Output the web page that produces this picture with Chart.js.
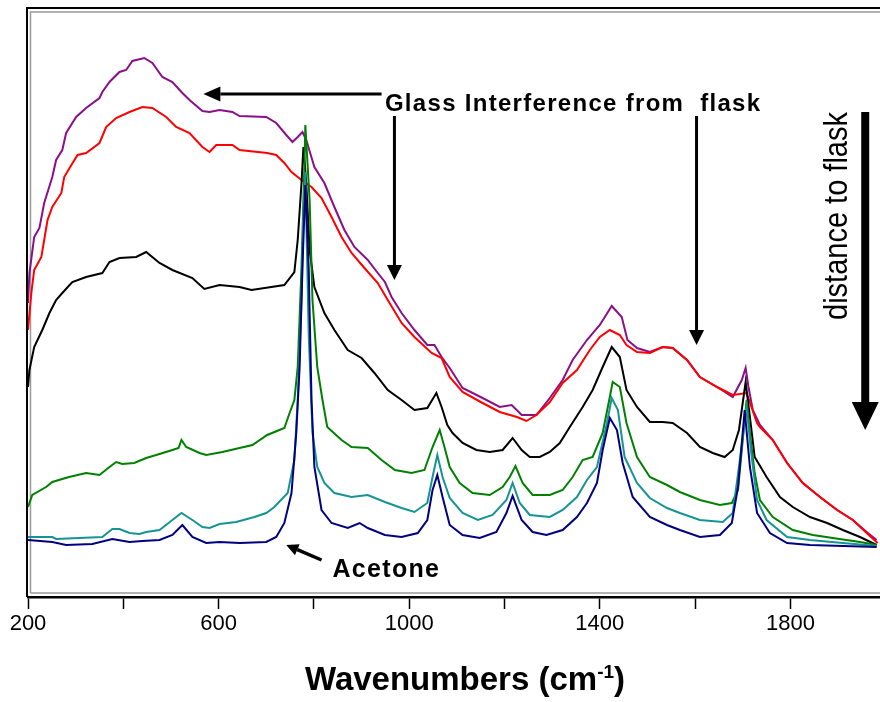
<!DOCTYPE html>
<html>
<head>
<meta charset="utf-8">
<script src="https://cdn.jsdelivr.net/npm/chart.js@4.4.1/dist/chart.umd.min.js"></script>
<style>
  html, body { margin: 0; padding: 0; background: #fff; }
</style>
</head>
<body>
<canvas id="raman" width="880" height="702"></canvas>
<script>
// Raman spectra of acetone through a glass flask, x = wavenumber (cm-1), y = intensity (a.u.)
const tickValues = [200, 400, 600, 800, 1000, 1200, 1400, 1600, 1800];
const labelledTicks = [200, 600, 1000, 1400, 1800];

const purpleSpectrum = [
  [200,294],[203,324],[213,360],[224,369],[234,394],[251,420],[259,437],[272,447],[280,464],[301,480],
  [322,489],[350,499],[356,505],[371,515],[392,525],[406,527],[419,536],[444,539],[461,534],[482,520],
  [503,515],[524,504],[539,497],[566,486],[581,485],[602,487],[629,485],[644,481],[700,480],[721,474],
  [742,462],[755,455],[766,460],[776,465],[784,457],[801,430],[822,414],[843,390],[864,367],[885,350],
  [913,337],[934,324],[949,315],[963,300],[984,284],[1011,267],[1038,252],[1053,252],[1068,240],[1085,229],
  [1112,209],[1154,199],[1190,190],[1215,192],[1236,182],[1267,182],[1295,199],[1322,217],[1343,237],[1373,257],
  [1400,272],[1425,291],[1446,280],[1458,257],[1478,249],[1505,245],[1532,250],[1553,249],[1583,237],[1610,220],
  [1646,210],[1679,200],[1698,217],[1706,229],[1712,210],[1721,187],[1736,172],[1763,157],[1793,134],[1826,114],
  [1862,100],[1898,87],[1931,77],[1960,65],[1981,57]
];

const redSpectrum = [
  [200,267],[207,304],[213,327],[228,340],[241,377],[251,390],[270,404],[276,420],[291,432],[304,442],
  [322,444],[350,454],[364,470],[385,479],[413,485],[440,490],[461,489],[490,480],[511,470],[539,464],
  [566,450],[581,445],[595,452],[629,452],[644,447],[702,444],[721,442],[738,434],[753,425],[774,417],
  [795,410],[816,399],[837,380],[858,360],[879,344],[906,329],[934,314],[955,297],[984,274],[1011,260],
  [1047,244],[1068,239],[1085,220],[1112,205],[1154,194],[1190,185],[1226,180],[1246,176],[1267,182],[1295,195],
  [1322,214],[1352,227],[1379,247],[1400,260],[1421,267],[1442,262],[1456,252],[1478,245],[1505,244],[1532,250],
  [1553,249],[1583,237],[1610,220],[1646,210],[1679,202],[1708,204],[1730,174],[1736,170],[1763,157],[1793,134],
  [1826,114],[1862,100],[1898,87],[1931,77],[1960,64],[1983,54]
];

const blackSpectrum = [
  [200,210],[203,227],[213,250],[230,267],[245,284],[259,297],[272,304],[293,315],[322,320],[356,324],
  [371,335],[392,339],[427,340],[448,345],[476,334],[503,327],[545,319],[570,308],[602,312],[644,310],
  [669,307],[738,312],[759,325],[766,357],[774,414],[778,450],[784,414],[791,347],[801,310],[822,284],
  [843,267],[871,247],[900,239],[927,224],[955,207],[984,197],[1011,187],[1038,189],[1057,204],[1068,190],
  [1080,172],[1091,164],[1112,154],[1141,147],[1169,145],[1196,147],[1217,159],[1236,147],[1253,140],[1274,140],
  [1295,145],[1316,154],[1337,170],[1364,190],[1385,207],[1406,230],[1425,250],[1442,240],[1456,207],[1478,190],
  [1505,175],[1532,175],[1553,174],[1583,164],[1610,150],[1637,144],[1662,140],[1679,147],[1692,167],[1706,215],
  [1715,180],[1725,140],[1750,120],[1778,100],[1805,90],[1841,80],[1877,74],[1910,67],[1946,60],[1981,52]
];

const greenSpectrum = [
  [200,90],[209,102],[238,110],[251,115],[286,120],[322,124],[350,122],[371,130],[385,135],[398,133],
  [423,134],[448,139],[476,143],[503,147],[516,149],[522,157],[532,150],[560,144],[574,142],[608,145],
  [644,149],[671,152],[702,162],[738,169],[749,184],[759,197],[766,230],[774,330],[780,430],[782,472],
  [791,397],[797,297],[807,230],[818,197],[828,170],[858,157],[879,150],[913,149],[942,137],[970,127],
  [1005,124],[1032,127],[1049,150],[1064,167],[1074,150],[1085,130],[1106,114],[1133,104],[1169,102],[1196,110],
  [1211,120],[1223,131],[1238,114],[1259,102],[1295,102],[1322,107],[1343,120],[1364,137],[1385,140],[1406,164],
  [1421,200],[1427,215],[1442,210],[1456,174],[1478,140],[1505,120],[1541,112],[1568,105],[1610,97],[1652,92],
  [1677,94],[1690,107],[1700,157],[1708,197],[1715,164],[1725,124],[1736,97],[1763,80],[1805,67],[1847,62],
  [1889,59],[1946,55],[1981,52]
];

const tealSpectrum = [
  [200,60],[251,60],[259,58],[356,60],[377,68],[392,68],[413,64],[434,63],[448,65],[476,67],
  [503,77],[522,84],[545,77],[566,70],[581,69],[602,73],[637,75],[675,80],[700,84],[717,90],
  [745,104],[759,137],[766,197],[774,297],[778,384],[782,425],[789,264],[797,164],[807,130],[822,114],
  [843,104],[879,100],[913,102],[949,95],[984,89],[1011,85],[1038,94],[1049,120],[1059,142],[1070,120],
  [1085,99],[1112,84],[1144,77],[1175,82],[1204,97],[1217,114],[1232,94],[1253,82],[1295,80],[1322,87],
  [1352,100],[1373,117],[1394,130],[1415,174],[1425,199],[1438,187],[1452,140],[1478,114],[1505,99],[1541,89],
  [1568,84],[1610,77],[1658,75],[1679,84],[1692,130],[1708,190],[1717,147],[1730,97],[1750,77],[1793,60],
  [1841,57],[1910,54],[1981,51]
];

const navySpectrum = [
  [200,57],[251,55],[280,52],[335,53],[377,58],[413,55],[440,56],[476,57],[503,62],[524,72],
  [545,60],[574,54],[602,55],[644,54],[700,55],[721,60],[738,74],[753,104],[763,164],[770,230],
  [776,330],[782,412],[789,330],[795,197],[801,130],[816,87],[837,74],[871,69],[896,74],[913,69],
  [949,62],[984,60],[1018,64],[1038,77],[1049,107],[1059,122],[1070,100],[1085,72],[1112,62],[1148,59],
  [1183,65],[1204,84],[1217,101],[1236,77],[1259,65],[1288,62],[1322,67],[1352,80],[1373,94],[1394,114],
  [1406,147],[1421,179],[1436,167],[1448,134],[1469,100],[1505,80],[1541,72],[1568,67],[1610,60],[1652,62],
  [1677,74],[1690,110],[1704,187],[1715,130],[1730,84],[1757,64],[1793,54],[1841,52],[1981,50]
];

// annotation anchors, in data units [wavenumber, intensity]
const glassArrowLeft = { from: [942, 503], to: [568, 503] };
const glassArrowA = { from: [969, 481], to: [969, 317] };
const glassArrowB = { from: [1603, 481], to: [1603, 252] };
const distanceArrow = { from: [1957, 485], to: [1957, 167] };
const acetoneArrow = { from: [816, 37], to: [742, 52] };
const glassLabelAt = [949, 486];
const distanceLabelAt = [1918, 381];
const acetoneLabelAt = [839, 20];

const FONT = '"Liberation Sans", Arial, Helvetica, sans-serif';

function toPoints(pairs) {
  return pairs.map(p => ({ x: p[0], y: p[1] }));
}

function px(chart, p) {
  return [chart.scales.x.getPixelForValue(p[0]), chart.scales.y.getPixelForValue(p[1])];
}

function drawArrow(ctx, a, b, shaft, headLen, headWidth) {
  const ang = Math.atan2(b[1] - a[1], b[0] - a[0]);
  const bx = b[0] - Math.cos(ang) * headLen;
  const by = b[1] - Math.sin(ang) * headLen;
  ctx.strokeStyle = '#000';
  ctx.fillStyle = '#000';
  ctx.lineWidth = shaft;
  ctx.lineCap = 'butt';
  ctx.beginPath();
  ctx.moveTo(a[0], a[1]);
  ctx.lineTo(bx, by);
  ctx.stroke();
  const nx = -Math.sin(ang) * headWidth / 2;
  const ny = Math.cos(ang) * headWidth / 2;
  ctx.beginPath();
  ctx.moveTo(b[0], b[1]);
  ctx.lineTo(bx + nx, by + ny);
  ctx.lineTo(bx - nx, by - ny);
  ctx.closePath();
  ctx.fill();
}

// double-line frame around the plot
const framePlugin = {
  id: 'frame',
  beforeDatasetsDraw(chart) {
    const { ctx, chartArea: a } = chart;
    ctx.save();
    ctx.strokeStyle = '#9a9a9a';
    ctx.lineWidth = 1.5;
    ctx.beginPath();
    ctx.moveTo(a.left + 2.5, a.bottom - 4);
    ctx.lineTo(a.left + 2.5, a.top + 4);
    ctx.lineTo(a.right, a.top + 4);
    ctx.moveTo(a.left + 2.5, a.bottom - 4);
    ctx.lineTo(a.right, a.bottom - 4);
    ctx.stroke();
    ctx.strokeStyle = '#000';
    ctx.lineWidth = 2;
    ctx.beginPath();
    ctx.moveTo(a.left - 1, a.bottom);
    ctx.lineTo(a.left - 1, a.top);
    ctx.lineTo(a.right, a.top);
    ctx.stroke();
    ctx.restore();
  }
};

const notesPlugin = {
  id: 'notes',
  afterDraw(chart) {
    const ctx = chart.ctx;
    ctx.save();

    drawArrow(ctx, px(chart, glassArrowLeft.from), px(chart, glassArrowLeft.to), 3, 17, 15);
    drawArrow(ctx, px(chart, glassArrowA.from), px(chart, glassArrowA.to), 3, 15, 15);
    drawArrow(ctx, px(chart, glassArrowB.from), px(chart, glassArrowB.to), 3, 15, 15);
    drawArrow(ctx, px(chart, distanceArrow.from), px(chart, distanceArrow.to), 8, 28, 27);
    drawArrow(ctx, px(chart, acetoneArrow.from), px(chart, acetoneArrow.to), 3.5, 12, 12);

    ctx.fillStyle = '#000';
    ctx.textBaseline = 'alphabetic';
    ctx.textAlign = 'left';

    let p = px(chart, glassLabelAt);
    ctx.font = 'bold 24px ' + FONT;
    ctx.letterSpacing = '1.3px';
    ctx.fillText('Glass Interference from  flask', p[0], p[1]);

    p = px(chart, acetoneLabelAt);
    ctx.font = 'bold 25px ' + FONT;
    ctx.letterSpacing = '1.3px';
    ctx.fillText('Acetone', p[0], p[1]);
    ctx.letterSpacing = '0px';

    // vertical label, tall glyphs squeezed to a 208px run
    p = px(chart, distanceLabelAt);
    ctx.save();
    ctx.translate(p[0], p[1]);
    ctx.rotate(-Math.PI / 2);
    ctx.font = '33px ' + FONT;
    ctx.textAlign = 'center';
    const run = ctx.measureText('distance to flask').width;
    ctx.scale(208 / run, 1);
    ctx.fillText('distance to flask', 0, 0);
    ctx.restore();

    // axis title with superscript unit
    const main = 'Wavenumbers (cm', sup = '-1', tail = ')';
    ctx.font = 'bold 33px ' + FONT;
    const wMain = ctx.measureText(main).width;
    const wTail = ctx.measureText(tail).width;
    ctx.font = 'bold 19px ' + FONT;
    const wSup = ctx.measureText(sup).width;
    let x = 465 - (wMain + wSup + wTail) / 2;
    const base = 690;
    ctx.font = 'bold 33px ' + FONT;
    ctx.fillText(main, x, base);
    x += wMain;
    ctx.font = 'bold 19px ' + FONT;
    ctx.fillText(sup, x, base - 12);
    x += wSup;
    ctx.font = 'bold 33px ' + FONT;
    ctx.fillText(tail, x, base);

    ctx.restore();
  }
};

const series = [
  { label: 'navy', data: navySpectrum, color: '#000080' },
  { label: 'teal', data: tealSpectrum, color: '#169494' },
  { label: 'green', data: greenSpectrum, color: '#008000' },
  { label: 'black', data: blackSpectrum, color: '#000000' },
  { label: 'red', data: redSpectrum, color: '#ff0000' },
  { label: 'purple', data: purpleSpectrum, color: '#8a108a' }
];

const ctx = document.getElementById('raman').getContext('2d');

new Chart(ctx, {
  type: 'line',
  data: {
    datasets: series.map(s => ({
      label: s.label,
      data: toPoints(s.data),
      borderColor: s.color,
      borderWidth: 2,
      pointRadius: 0,
      tension: 0,
      fill: false
    }))
  },
  options: {
    responsive: false,
    animation: false,
    layout: { padding: { left: 28, top: 8, right: 0, bottom: 0 } },
    plugins: {
      legend: { display: false },
      tooltip: { enabled: false }
    },
    scales: {
      x: {
        type: 'linear',
        min: 200,
        max: 1988,
        afterBuildTicks: (axis) => {
          axis.ticks = tickValues.map(v => ({ value: v }));
        },
        afterFit: (axis) => {
          axis.height = 105;
        },
        ticks: {
          autoSkip: false,
          maxRotation: 0,
          padding: 2,
          color: '#000',
          font: { family: FONT, size: 22 },
          callback: (v) => labelledTicks.includes(v) ? String(v) : ''
        },
        grid: {
          drawOnChartArea: false,
          drawTicks: true,
          tickLength: 12,
          tickColor: '#000',
          tickWidth: 1.5
        },
        border: { display: true, color: '#000', width: 2.5 }
      },
      y: {
        display: false,
        min: 0,
        max: 589
      }
    }
  },
  plugins: [framePlugin, notesPlugin]
});
</script>
</body>
</html>
